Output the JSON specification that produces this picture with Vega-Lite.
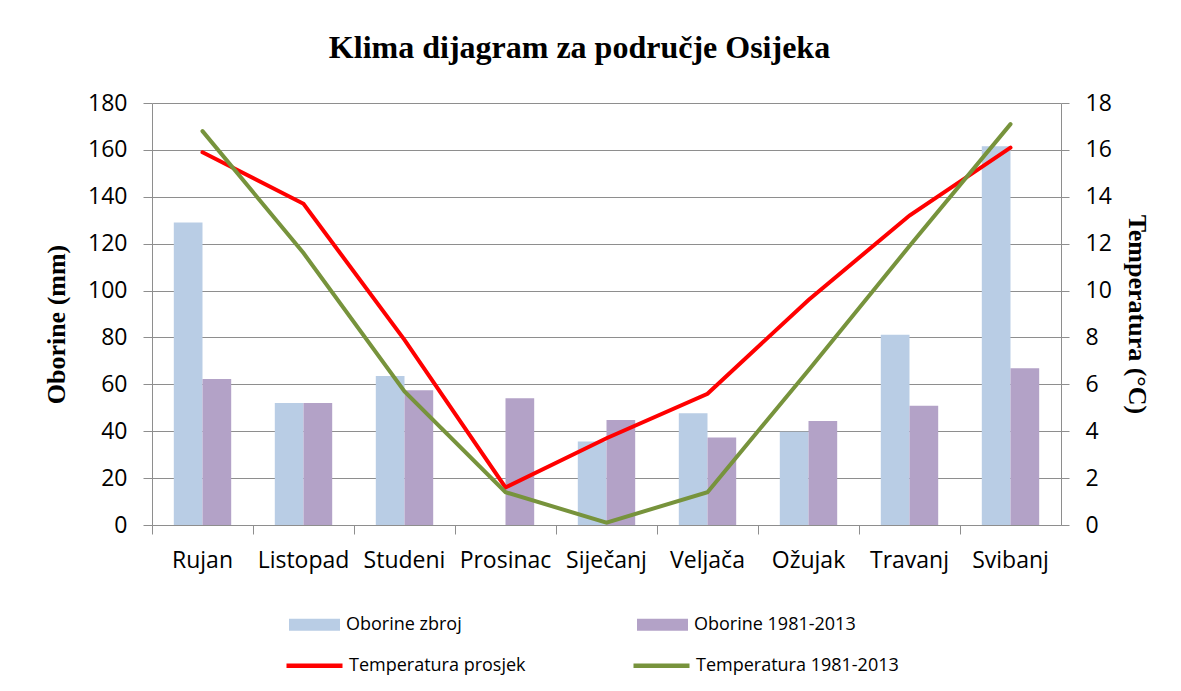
{
  "$schema": "https://vega.github.io/schema/vega-lite/v6.json",
  "width": 909,
  "height": 422,
  "autosize": {"type": "none"},
  "padding": {"left": 152, "top": 103, "right": 120, "bottom": 166},
  "background": "white",
  "config": {
    "view": {"stroke": null},
    "axis": {"labelFont": "Open Sans", "labelFontSize": 23, "labelColor": "#000000", "domainColor": "#8e8e8e", "tickColor": "#8e8e8e", "gridColor": "#8e8e8e", "titleFont": "Liberation Serif", "titleFontWeight": "bold", "titleFontSize": 26, "titleColor": "#000000"},
    "legend": {"labelFont": "Open Sans", "labelFontSize": 18, "labelColor": "#000000", "labelLimit": 500}
  },
  "title": {"text": "Klima dijagram za područje Osijeka", "font": "Liberation Serif", "fontSize": 32, "fontWeight": "bold", "color": "#000000", "anchor": "middle", "dx": -27, "offset": 27},
  "datasets": {
    "oborine": [
      {"mjesec": "Rujan", "serija": "Oborine zbroj", "mm": 129},
      {"mjesec": "Rujan", "serija": "Oborine 1981-2013", "mm": 62.3},
      {"mjesec": "Listopad", "serija": "Oborine zbroj", "mm": 52},
      {"mjesec": "Listopad", "serija": "Oborine 1981-2013", "mm": 52},
      {"mjesec": "Studeni", "serija": "Oborine zbroj", "mm": 63.6},
      {"mjesec": "Studeni", "serija": "Oborine 1981-2013", "mm": 57.5},
      {"mjesec": "Prosinac", "serija": "Oborine 1981-2013", "mm": 54.1},
      {"mjesec": "Siječanj", "serija": "Oborine zbroj", "mm": 35.6},
      {"mjesec": "Siječanj", "serija": "Oborine 1981-2013", "mm": 44.8},
      {"mjesec": "Veljača", "serija": "Oborine zbroj", "mm": 47.7},
      {"mjesec": "Veljača", "serija": "Oborine 1981-2013", "mm": 37.3},
      {"mjesec": "Ožujak", "serija": "Oborine zbroj", "mm": 39.8},
      {"mjesec": "Ožujak", "serija": "Oborine 1981-2013", "mm": 44.4},
      {"mjesec": "Travanj", "serija": "Oborine zbroj", "mm": 81.1},
      {"mjesec": "Travanj", "serija": "Oborine 1981-2013", "mm": 50.9},
      {"mjesec": "Svibanj", "serija": "Oborine zbroj", "mm": 161.5},
      {"mjesec": "Svibanj", "serija": "Oborine 1981-2013", "mm": 66.9}
    ],
    "temperatura": [
      {"mjesec": "Rujan", "serija": "Temperatura prosjek", "t": 15.9},
      {"mjesec": "Listopad", "serija": "Temperatura prosjek", "t": 13.7},
      {"mjesec": "Studeni", "serija": "Temperatura prosjek", "t": 7.9},
      {"mjesec": "Prosinac", "serija": "Temperatura prosjek", "t": 1.6},
      {"mjesec": "Siječanj", "serija": "Temperatura prosjek", "t": 3.7},
      {"mjesec": "Veljača", "serija": "Temperatura prosjek", "t": 5.6},
      {"mjesec": "Ožujak", "serija": "Temperatura prosjek", "t": 9.6},
      {"mjesec": "Travanj", "serija": "Temperatura prosjek", "t": 13.2},
      {"mjesec": "Svibanj", "serija": "Temperatura prosjek", "t": 16.1},
      {"mjesec": "Rujan", "serija": "Temperatura 1981-2013", "t": 16.8},
      {"mjesec": "Listopad", "serija": "Temperatura 1981-2013", "t": 11.6},
      {"mjesec": "Studeni", "serija": "Temperatura 1981-2013", "t": 5.7},
      {"mjesec": "Prosinac", "serija": "Temperatura 1981-2013", "t": 1.4},
      {"mjesec": "Siječanj", "serija": "Temperatura 1981-2013", "t": 0.1},
      {"mjesec": "Veljača", "serija": "Temperatura 1981-2013", "t": 1.4},
      {"mjesec": "Ožujak", "serija": "Temperatura 1981-2013", "t": 6.6},
      {"mjesec": "Travanj", "serija": "Temperatura 1981-2013", "t": 11.9},
      {"mjesec": "Svibanj", "serija": "Temperatura 1981-2013", "t": 17.1}
    ]
  },
  "encoding": {
    "x": {
      "field": "mjesec",
      "type": "nominal",
      "sort": ["Rujan", "Listopad", "Studeni", "Prosinac", "Siječanj", "Veljača", "Ožujak", "Travanj", "Svibanj"],
      "scale": {"domain": ["Rujan", "Listopad", "Studeni", "Prosinac", "Siječanj", "Veljača", "Ožujak", "Travanj", "Svibanj"], "paddingInner": 0, "paddingOuter": 0},
      "axis": {"title": null, "labelAngle": 0, "bandPosition": 0, "tickSize": 9, "labelPadding": 15, "grid": false, "domainColor": "#8e8e8e"}
    }
  },
  "layer": [
    {
      "data": {"name": "oborine"},
      "mark": {"type": "bar"},
      "encoding": {
        "xOffset": {"field": "serija", "type": "nominal", "scale": {"domain": ["Oborine zbroj", "Oborine 1981-2013"], "paddingInner": 0, "paddingOuter": 0.76}},
        "y": {"field": "mm", "type": "quantitative", "scale": {"domain": [0, 180], "nice": false}, "axis": {"title": "Oborine (mm)", "values": [0, 20, 40, 60, 80, 100, 120, 140, 160, 180], "tickSize": 9, "labelPadding": 16, "titlePadding": 18, "titleY": 221, "grid": true}},
        "fill": {"field": "serija", "type": "nominal", "scale": {"domain": ["Oborine zbroj", "Oborine 1981-2013"], "range": ["#b9cde5", "#b3a2c7"]}, "legend": {"title": null, "orient": "none", "direction": "horizontal", "columns": 2, "legendX": 137, "legendY": 496, "symbolType": "M-1,-0.235H1V0.235H-1Z", "symbolSize": 2601, "symbolStrokeWidth": 0, "symbolOpacity": 1, "labelOffset": 6, "columnPadding": 175}}
      }
    },
    {
      "data": {"name": "temperatura"},
      "mark": {"type": "line", "strokeWidth": 4, "strokeCap": "round"},
      "encoding": {
        "y": {"field": "t", "type": "quantitative", "scale": {"domain": [0, 18], "nice": false}, "axis": {"title": "Temperatura (°C)", "orient": "right", "values": [0, 2, 4, 6, 8, 10, 12, 14, 16, 18], "tickSize": 8, "labelPadding": 16, "titlePadding": 12, "grid": false}},
        "stroke": {"field": "serija", "type": "nominal", "scale": {"domain": ["Temperatura prosjek", "Temperatura 1981-2013"], "range": ["#ff0000", "#77933c"]}, "legend": {"title": null, "orient": "none", "direction": "horizontal", "columns": 2, "legendX": 132, "legendY": 532, "symbolType": "stroke", "symbolSize": 3136, "symbolStrokeWidth": 4.5, "labelOffset": 4, "columnPadding": 98}}
      }
    }
  ],
  "resolve": {"scale": {"y": "independent"}}
}
